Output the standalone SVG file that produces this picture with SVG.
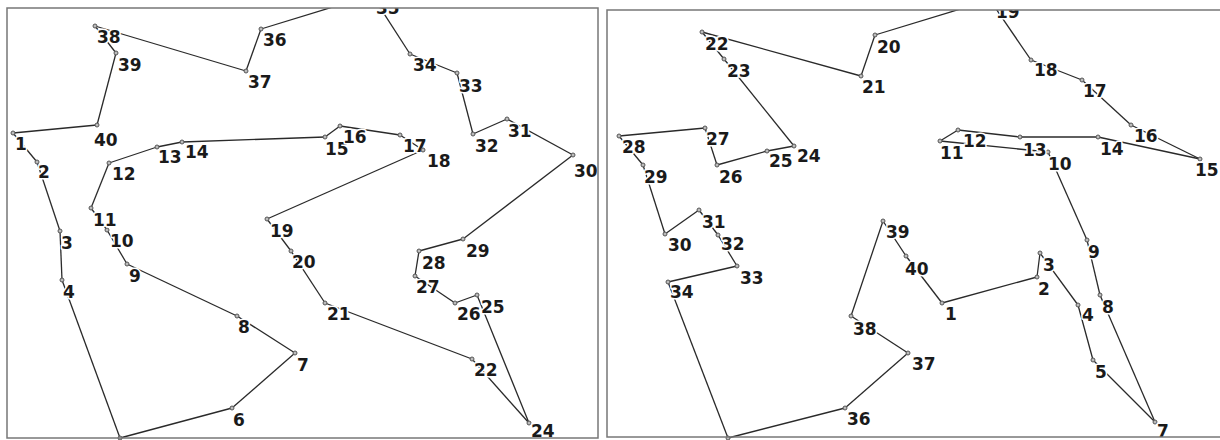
<svg xmlns="http://www.w3.org/2000/svg" width="1220" height="440" viewBox="0 0 1220 440">
<defs>
<clipPath id="c1"><rect x="7" y="8" width="591" height="432"/></clipPath>
<clipPath id="c2"><rect x="607" y="10" width="613" height="430"/></clipPath>
<style>
.f{fill:none;stroke:#777;stroke-width:1.5}
.e line{stroke:#2a2a2a;stroke-width:1.3}
circle{fill:#bbb;stroke:#555;stroke-width:1}
text{font-family:"DejaVu Sans",sans-serif;font-weight:bold;font-size:17px;fill:#1a1a1a;stroke:#fff;stroke-width:3;paint-order:stroke;stroke-linejoin:round}
</style>
</defs>
<rect width="1220" height="440" fill="#fff"/>
<g clip-path="url(#c1)">
<g id="edges1" class="e">
<line x1="13" y1="133" x2="37" y2="162"/><line x1="37" y1="162" x2="60" y2="231"/><line x1="60" y1="231" x2="62" y2="280"/><line x1="62" y1="280" x2="120" y2="438"/><line x1="120" y1="438" x2="232" y2="408"/><line x1="232" y1="408" x2="295" y2="353"/><line x1="295" y1="353" x2="237" y2="316"/><line x1="237" y1="316" x2="127" y2="264"/><line x1="127" y1="264" x2="107" y2="230"/><line x1="107" y1="230" x2="91" y2="208"/><line x1="91" y1="208" x2="109" y2="163"/><line x1="109" y1="163" x2="157" y2="147"/><line x1="157" y1="147" x2="182" y2="142"/><line x1="182" y1="142" x2="325" y2="137"/><line x1="325" y1="137" x2="340" y2="126"/><line x1="340" y1="126" x2="400" y2="135"/><line x1="400" y1="135" x2="423" y2="150"/><line x1="423" y1="150" x2="267" y2="219"/><line x1="267" y1="219" x2="291" y2="251"/><line x1="291" y1="251" x2="325" y2="303"/><line x1="325" y1="303" x2="472" y2="359"/><line x1="472" y1="359" x2="529" y2="423"/><line x1="529" y1="423" x2="477" y2="295"/><line x1="477" y1="295" x2="455" y2="303"/><line x1="455" y1="303" x2="415" y2="276"/><line x1="415" y1="276" x2="419" y2="251"/><line x1="419" y1="251" x2="463" y2="239"/><line x1="463" y1="239" x2="573" y2="155"/><line x1="573" y1="155" x2="507" y2="119"/><line x1="507" y1="119" x2="473" y2="134"/><line x1="473" y1="134" x2="457" y2="73"/><line x1="457" y1="73" x2="410" y2="54"/><line x1="410" y1="54" x2="372" y2="-5"/><line x1="372" y1="-5" x2="261" y2="29"/><line x1="261" y1="29" x2="246" y2="71"/><line x1="246" y1="71" x2="95" y2="26"/><line x1="95" y1="26" x2="116" y2="53"/><line x1="116" y1="53" x2="97" y2="125"/><line x1="97" y1="125" x2="13" y2="133"/>
</g>
<g id="a1"><circle cx="13" cy="133" r="2"/><text x="15" y="150">1</text></g>
<g id="a2"><circle cx="37" cy="162" r="2"/><text x="38" y="178">2</text></g>
<g id="a3"><circle cx="60" cy="231" r="2"/><text x="61" y="249">3</text></g>
<g id="a4"><circle cx="62" cy="280" r="2"/><text x="63" y="298">4</text></g>
<g id="a5"><circle cx="120" cy="438" r="2"/></g>
<g id="a6"><circle cx="232" cy="408" r="2"/><text x="233" y="426">6</text></g>
<g id="a7"><circle cx="295" cy="353" r="2"/><text x="297" y="371">7</text></g>
<g id="a8"><circle cx="237" cy="316" r="2"/><text x="238" y="333">8</text></g>
<g id="a9"><circle cx="127" cy="264" r="2"/><text x="129" y="282">9</text></g>
<g id="a10"><circle cx="107" cy="230" r="2"/><text x="110" y="247">10</text></g>
<g id="a11"><circle cx="91" cy="208" r="2"/><text x="93" y="226">11</text></g>
<g id="a12"><circle cx="109" cy="163" r="2"/><text x="112" y="180">12</text></g>
<g id="a13"><circle cx="157" cy="147" r="2"/><text x="158" y="163">13</text></g>
<g id="a14"><circle cx="182" cy="142" r="2"/><text x="185" y="158">14</text></g>
<g id="a15"><circle cx="325" cy="137" r="2"/><text x="325" y="155">15</text></g>
<g id="a16"><circle cx="340" cy="126" r="2"/><text x="343" y="143">16</text></g>
<g id="a17"><circle cx="400" cy="135" r="2"/><text x="403" y="152">17</text></g>
<g id="a18"><circle cx="423" cy="150" r="2"/><text x="427" y="167">18</text></g>
<g id="a19"><circle cx="267" cy="219" r="2"/><text x="270" y="237">19</text></g>
<g id="a20"><circle cx="291" cy="251" r="2"/><text x="292" y="268">20</text></g>
<g id="a21"><circle cx="325" cy="303" r="2"/><text x="327" y="320">21</text></g>
<g id="a22"><circle cx="472" cy="359" r="2"/><text x="474" y="376">22</text></g>
<g id="a24"><circle cx="529" cy="423" r="2"/><text x="531" y="437">24</text></g>
<g id="a25"><circle cx="477" cy="295" r="2"/><text x="481" y="313">25</text></g>
<g id="a26"><circle cx="455" cy="303" r="2"/><text x="457" y="320">26</text></g>
<g id="a27"><circle cx="415" cy="276" r="2"/><text x="416" y="293">27</text></g>
<g id="a28"><circle cx="419" cy="251" r="2"/><text x="422" y="269">28</text></g>
<g id="a29"><circle cx="463" cy="239" r="2"/><text x="466" y="257">29</text></g>
<g id="a30"><circle cx="573" cy="155" r="2"/><text x="574" y="177">30</text></g>
<g id="a31"><circle cx="507" cy="119" r="2"/><text x="508" y="137">31</text></g>
<g id="a32"><circle cx="473" cy="134" r="2"/><text x="475" y="152">32</text></g>
<g id="a33"><circle cx="457" cy="73" r="2"/><text x="459" y="92">33</text></g>
<g id="a34"><circle cx="410" cy="54" r="2"/><text x="413" y="71">34</text></g>
<g id="a35"><circle cx="372" cy="-5" r="2"/><text x="376" y="14">35</text></g>
<g id="a36"><circle cx="261" cy="29" r="2"/><text x="263" y="46">36</text></g>
<g id="a37"><circle cx="246" cy="71" r="2"/><text x="248" y="88">37</text></g>
<g id="a38"><circle cx="95" cy="26" r="2"/><text x="97" y="43">38</text></g>
<g id="a39"><circle cx="116" cy="53" r="2"/><text x="118" y="71">39</text></g>
<g id="a40"><circle cx="97" cy="125" r="2"/><text x="94" y="146">40</text></g>
</g>
<rect class="f" x="7" y="8" width="591" height="430"/>
<g clip-path="url(#c2)">
<g id="edges2" class="e">
<line x1="942" y1="303" x2="1037" y2="277"/><line x1="1037" y1="277" x2="1040" y2="253"/><line x1="1040" y1="253" x2="1078" y2="305"/><line x1="1078" y1="305" x2="1093" y2="360"/><line x1="1093" y1="360" x2="1155" y2="422"/><line x1="1155" y1="422" x2="1100" y2="295"/><line x1="1100" y1="295" x2="1087" y2="240"/><line x1="1087" y1="240" x2="1048" y2="152"/><line x1="1048" y1="152" x2="940" y2="141"/><line x1="940" y1="141" x2="958" y2="130"/><line x1="958" y1="130" x2="1020" y2="137"/><line x1="1020" y1="137" x2="1098" y2="137"/><line x1="1098" y1="137" x2="1200" y2="159"/><line x1="1200" y1="159" x2="1131" y2="125"/><line x1="1131" y1="125" x2="1082" y2="80"/><line x1="1082" y1="80" x2="1031" y2="60"/><line x1="1031" y1="60" x2="990" y2="0"/><line x1="990" y1="0" x2="875" y2="35"/><line x1="875" y1="35" x2="861" y2="76"/><line x1="861" y1="76" x2="702" y2="32"/><line x1="702" y1="32" x2="724" y2="59"/><line x1="724" y1="59" x2="794" y2="146"/><line x1="794" y1="146" x2="767" y2="151"/><line x1="767" y1="151" x2="717" y2="165"/><line x1="717" y1="165" x2="705" y2="128"/><line x1="705" y1="128" x2="619" y2="136"/><line x1="619" y1="136" x2="643" y2="165"/><line x1="643" y1="165" x2="665" y2="234"/><line x1="665" y1="234" x2="699" y2="210"/><line x1="699" y1="210" x2="718" y2="235"/><line x1="718" y1="235" x2="737" y2="266"/><line x1="737" y1="266" x2="668" y2="282"/><line x1="668" y1="282" x2="728" y2="438"/><line x1="728" y1="438" x2="845" y2="408"/><line x1="845" y1="408" x2="908" y2="353"/><line x1="908" y1="353" x2="851" y2="316"/><line x1="851" y1="316" x2="883" y2="221"/><line x1="883" y1="221" x2="906" y2="256"/><line x1="906" y1="256" x2="942" y2="303"/>
</g>
<g id="b1"><circle cx="942" cy="303" r="2"/><text x="945" y="320">1</text></g>
<g id="b2"><circle cx="1037" cy="277" r="2"/><text x="1038" y="295">2</text></g>
<g id="b3"><circle cx="1040" cy="253" r="2"/><text x="1043" y="271">3</text></g>
<g id="b4"><circle cx="1078" cy="305" r="2"/><text x="1082" y="321">4</text></g>
<g id="b5"><circle cx="1093" cy="360" r="2"/><text x="1095" y="378">5</text></g>
<g id="b7"><circle cx="1155" cy="422" r="2"/><text x="1157" y="437">7</text></g>
<g id="b8"><circle cx="1100" cy="295" r="2"/><text x="1102" y="313">8</text></g>
<g id="b9"><circle cx="1087" cy="240" r="2"/><text x="1088" y="258">9</text></g>
<g id="b10"><circle cx="1048" cy="152" r="2"/><text x="1048" y="170">10</text></g>
<g id="b11"><circle cx="940" cy="141" r="2"/><text x="940" y="159">11</text></g>
<g id="b12"><circle cx="958" cy="130" r="2"/><text x="963" y="147">12</text></g>
<g id="b13"><circle cx="1020" cy="137" r="2"/><text x="1023" y="156">13</text></g>
<g id="b14"><circle cx="1098" cy="137" r="2"/><text x="1100" y="155">14</text></g>
<g id="b15"><circle cx="1200" cy="159" r="2"/><text x="1195" y="176">15</text></g>
<g id="b16"><circle cx="1131" cy="125" r="2"/><text x="1134" y="142">16</text></g>
<g id="b17"><circle cx="1082" cy="80" r="2"/><text x="1083" y="97">17</text></g>
<g id="b18"><circle cx="1031" cy="60" r="2"/><text x="1034" y="76">18</text></g>
<g id="b19"><circle cx="990" cy="0" r="2"/><text x="996" y="18">19</text></g>
<g id="b20"><circle cx="875" cy="35" r="2"/><text x="877" y="53">20</text></g>
<g id="b21"><circle cx="861" cy="76" r="2"/><text x="862" y="93">21</text></g>
<g id="b22"><circle cx="702" cy="32" r="2"/><text x="705" y="50">22</text></g>
<g id="b23"><circle cx="724" cy="59" r="2"/><text x="727" y="77">23</text></g>
<g id="b24"><circle cx="794" cy="146" r="2"/><text x="797" y="162">24</text></g>
<g id="b25"><circle cx="767" cy="151" r="2"/><text x="769" y="167">25</text></g>
<g id="b26"><circle cx="717" cy="165" r="2"/><text x="719" y="183">26</text></g>
<g id="b27"><circle cx="705" cy="128" r="2"/><text x="706" y="145">27</text></g>
<g id="b28"><circle cx="619" cy="136" r="2"/><text x="622" y="153">28</text></g>
<g id="b29"><circle cx="643" cy="165" r="2"/><text x="644" y="183">29</text></g>
<g id="b30"><circle cx="665" cy="234" r="2"/><text x="668" y="251">30</text></g>
<g id="b31"><circle cx="699" cy="210" r="2"/><text x="702" y="228">31</text></g>
<g id="b32"><circle cx="718" cy="235" r="2"/><text x="721" y="250">32</text></g>
<g id="b33"><circle cx="737" cy="266" r="2"/><text x="740" y="284">33</text></g>
<g id="b34"><circle cx="668" cy="282" r="2"/><text x="670" y="298">34</text></g>
<g id="b35"><circle cx="728" cy="438" r="2"/></g>
<g id="b36"><circle cx="845" cy="408" r="2"/><text x="847" y="425">36</text></g>
<g id="b37"><circle cx="908" cy="353" r="2"/><text x="912" y="370">37</text></g>
<g id="b38"><circle cx="851" cy="316" r="2"/><text x="853" y="335">38</text></g>
<g id="b39"><circle cx="883" cy="221" r="2"/><text x="886" y="238">39</text></g>
<g id="b40"><circle cx="906" cy="256" r="2"/><text x="905" y="275">40</text></g>
</g>
<rect class="f" x="607" y="10" width="620" height="427"/>
</svg>
